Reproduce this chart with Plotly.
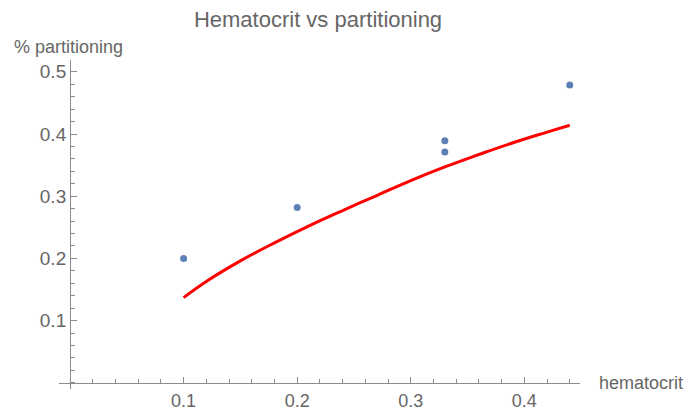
import plotly.graph_objects as go

# Data points
hematocrit = [0.10, 0.20, 0.33, 0.33, 0.44]
partitioning = [0.200, 0.282, 0.389, 0.371, 0.479]

# Fitted curve
fit_x = [0.10, 0.12, 0.15, 0.18, 0.21, 0.24, 0.27, 0.30, 0.33, 0.36, 0.39, 0.42, 0.44]
fit_y = [0.137, 0.163, 0.196, 0.225, 0.252, 0.277, 0.301, 0.325, 0.347, 0.367, 0.386, 0.403, 0.414]

x_ticks = [0.1, 0.2, 0.3, 0.4]
y_ticks = [0.1, 0.2, 0.3, 0.4, 0.5]

x_range = [-0.0097, 0.449]
y_range = [-0.010, 0.519]

GRAY_TEXT = "#666666"
GRAY_LINE = "#8c8c8c"
FONT = "Liberation Sans, Arial, sans-serif"

fig = go.Figure()
fig.add_trace(go.Scatter(x=fit_x, y=fit_y, mode="lines",
                         line=dict(color="#ff0000", width=3, shape="spline", smoothing=1.2),
                         hoverinfo="skip"))
fig.add_trace(go.Scatter(x=hematocrit, y=partitioning, mode="markers",
                         marker=dict(color="#5e81b5", size=7)))

x0_pos = (0 - x_range[0]) / (x_range[1] - x_range[0])
y0_pos = (0 - y_range[0]) / (y_range[1] - y_range[0])

fig.update_layout(
    width=684, height=413,
    margin=dict(l=59, r=104, t=60, b=24, autoexpand=False),
    paper_bgcolor="white", plot_bgcolor="white",
    showlegend=False,
    font=dict(family=FONT, color=GRAY_TEXT, size=18),
    title=dict(text="Hematocrit vs partitioning", x=318/684, xanchor="center",
               xref="container", yref="container", y=1 - 19/413, yanchor="middle",
               font=dict(size=22, color=GRAY_TEXT, family=FONT)),
    xaxis=dict(range=x_range, anchor="free", position=y0_pos, automargin=False,
               showline=True, linecolor=GRAY_LINE, linewidth=1,
               showgrid=False, zeroline=False,
               tickmode="array", tickvals=x_ticks, ticktext=[str(v) for v in x_ticks],
               ticks="inside", ticklen=6, tickcolor=GRAY_LINE,
               ticklabelstandoff=2,
               minor=dict(tickmode="linear", tick0=0, dtick=0.02, ticks="inside",
                          ticklen=3.5, tickcolor=GRAY_LINE, showgrid=False),
               tickfont=dict(size=18, color=GRAY_TEXT)),
    yaxis=dict(range=y_range, anchor="free", position=x0_pos, automargin=False,
               showline=True, linecolor=GRAY_LINE, linewidth=1,
               showgrid=False, zeroline=False,
               tickmode="array", tickvals=y_ticks, ticktext=[str(v) for v in y_ticks],
               ticks="inside", ticklen=6, tickcolor=GRAY_LINE,
               minor=dict(tickmode="linear", tick0=0, dtick=0.02, ticks="inside",
                          ticklen=3.5, tickcolor=GRAY_LINE, showgrid=False),
               tickfont=dict(size=19, color=GRAY_TEXT)),
    annotations=[
        dict(text="% partitioning", xref="paper", yref="paper",
             x=(12 - 59) / 521, y=(389 - 47) / 329, xanchor="left", yanchor="middle",
             showarrow=False, font=dict(size=18, color=GRAY_TEXT)),
        dict(text="hematocrit", xref="paper", yref="paper",
             x=(597 - 59) / 521, y=y0_pos, xanchor="left", yanchor="middle",
             showarrow=False, font=dict(size=18, color=GRAY_TEXT)),
    ],
)

fig.write_html("out.html")
